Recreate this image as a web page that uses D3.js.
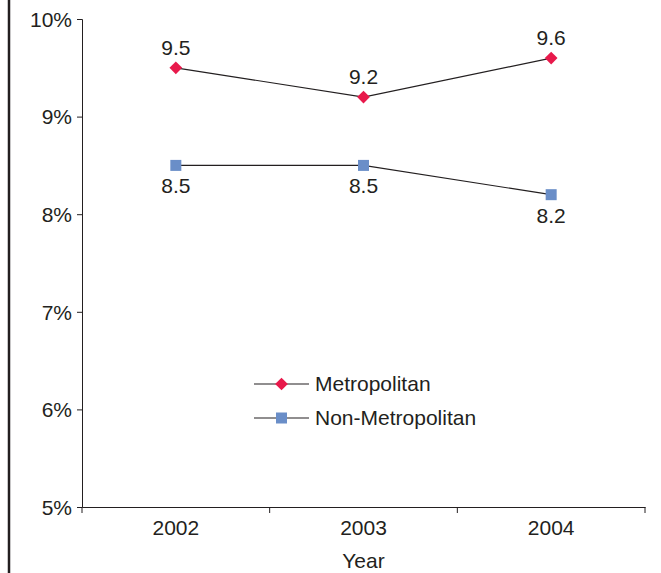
<!DOCTYPE html>
<html>
<head>
<meta charset="utf-8">
<script src="https://cdn.jsdelivr.net/npm/d3@7"></script>
<style>
  body { margin: 0; background: #fff; }
  text { font-family: "Liberation Sans", Arial, sans-serif; fill: #231f20; }
</style>
</head>
<body>
<div id="chart"></div>
<script>
// dados
const years = ["2002", "2003", "2004"];
const metroValues = [9.5, 9.2, 9.6];
const nonMetroValues = [8.5, 8.5, 8.2];
const yTicks = [5, 6, 7, 8, 9, 10];
const seriesNames = ["Metropolitan", "Non-Metropolitan"];

const W = 661, H = 573;
const margin = { top: 19, right: 16, bottom: 66, left: 82 };
const width = W - margin.left - margin.right;
const height = H - margin.top - margin.bottom;
const fs = "21px";

const svg = d3.select("#chart").append("svg")
    .attr("width", W)
    .attr("height", H);

// borda esquerda
svg.append("line")
    .attr("x1", 9).attr("x2", 9)
    .attr("y1", 0).attr("y2", H)
    .attr("stroke", "#231f20")
    .attr("stroke-width", 2.5);

const g = svg.append("g")
    .attr("transform", `translate(${margin.left},${margin.top})`);

const x = d3.scaleBand().domain(years).range([0, width]);
const y = d3.scaleLinear().domain([5, 10]).range([height, 0]);

// eixo Y
const yAxis = g.append("g")
    .call(d3.axisLeft(y).tickValues(yTicks).tickFormat(d => d + "%").tickSize(5).tickPadding(5));
yAxis.selectAll("text").style("font-size", fs).attr("dy", "0.35em");

// eixo X com marcas nas fronteiras
const xAxis = g.append("g")
    .attr("transform", `translate(0,${height})`)
    .call(d3.axisBottom(x).tickSize(0).tickPadding(13));
xAxis.selectAll("text").style("font-size", fs);
xAxis.selectAll(".tick line").remove();
const bounds = years.map(d => x(d)).concat([width]);
xAxis.selectAll(".bound")
    .data(bounds)
    .enter().append("line")
    .attr("x1", d => d).attr("x2", d => d)
    .attr("y1", 0).attr("y2", 6)
    .attr("stroke", "#231f20");

[yAxis, xAxis].forEach(a => {
    a.select(".domain").attr("stroke", "#231f20");
    a.selectAll("line").attr("stroke", "#231f20");
    a.selectAll("text").attr("fill", "#231f20").style("font-family", '"Liberation Sans", Arial, sans-serif');
});

// título do eixo X
g.append("text")
    .attr("x", width / 2)
    .attr("y", height + 61)
    .attr("text-anchor", "middle")
    .style("font-size", fs)
    .text("Year");

const cx = d => x(d) + x.bandwidth() / 2;
const line = d3.line().x(d => cx(d.year)).y(d => y(d.v));

const metro = years.map((d, i) => ({ year: d, v: metroValues[i] }));
const nonMetro = years.map((d, i) => ({ year: d, v: nonMetroValues[i] }));

// linhas
[metro, nonMetro].forEach(s => {
    g.append("path")
        .datum(s)
        .attr("d", line)
        .attr("fill", "none")
        .attr("stroke", "#231f20")
        .attr("stroke-width", 1.2);
});

// marcadores
g.selectAll(".m-metro")
    .data(metro).enter().append("rect")
    .attr("x", -4.5).attr("y", -4.5)
    .attr("width", 9).attr("height", 9)
    .attr("transform", d => `translate(${cx(d.year)},${y(d.v)}) rotate(45)`)
    .attr("fill", "#e8194b");

g.selectAll(".m-non")
    .data(nonMetro).enter().append("rect")
    .attr("x", d => cx(d.year) - 5.5)
    .attr("y", d => y(d.v) - 5.5)
    .attr("width", 11).attr("height", 11)
    .attr("fill", "#6a8ec8");

// rótulos
g.selectAll(".l-metro")
    .data(metro).enter().append("text")
    .attr("x", d => cx(d.year))
    .attr("y", d => y(d.v) - 13)
    .attr("text-anchor", "middle")
    .style("font-size", fs)
    .text(d => d.v.toFixed(1));

g.selectAll(".l-non")
    .data(nonMetro).enter().append("text")
    .attr("x", d => cx(d.year))
    .attr("y", d => y(d.v) + 28)
    .attr("text-anchor", "middle")
    .style("font-size", fs)
    .text(d => d.v.toFixed(1));

// legenda
const legend = svg.append("g").attr("transform", "translate(254,384)");
seriesNames.forEach((name, i) => {
    const row = legend.append("g").attr("transform", `translate(0,${i * 34})`);
    row.append("line")
        .attr("x1", 0).attr("x2", 55)
        .attr("stroke", "#231f20").attr("stroke-width", 1.2);
    if (i === 0) {
        row.append("rect")
            .attr("x", -4.5).attr("y", -4.5).attr("width", 9).attr("height", 9)
            .attr("transform", "translate(27.5,0) rotate(45)")
            .attr("fill", "#e8194b");
    } else {
        row.append("rect")
            .attr("x", 22).attr("y", -5.5).attr("width", 11).attr("height", 11)
            .attr("fill", "#6a8ec8");
    }
    row.append("text")
        .attr("x", 61)
        .attr("y", 0)
        .attr("dy", "0.35em")
        .style("font-size", fs)
        .text(name);
});
</script>
</body>
</html>
